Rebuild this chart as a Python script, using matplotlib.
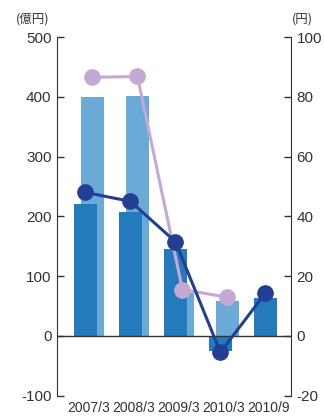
import matplotlib
matplotlib.use("Agg")
import matplotlib.pyplot as plt
import numpy as np

# data
periods = ["2007/3", "2008/3", "2009/3", "2010/3", "2010/9"]
profit_dark = [220, 207, 145, -25, 63]       # 億円, front bars
profit_light = [400, 402, 71, 58]            # 億円, back bars (no 2010/9)
line_navy = [48, 45, 31.5, -5.5, 14.3]       # 円
line_purple = [86.5, 86.8, 15.5, 12.9]       # 円

darkBlue = "#237bbd"
lightBlue = "#6aaad7"
navy = "#233f94"
purple = "#c4a9d4"
axisGray = "#333333"

plt.rcParams['font.family'] = ['Liberation Sans', 'Noto Sans CJK JP', 'DejaVu Sans']
plt.rcParams['axes.unicode_minus'] = False

fig = plt.figure(figsize=(3.24, 4.16), dpi=100)
ax = fig.add_axes([0.176, 0.049, 0.722, 0.862])

x = np.arange(len(periods))
xl = np.arange(len(profit_light))
w = 0.51
off = 0.078

ax.bar(xl + off, profit_light, w, color=lightBlue, zorder=1)
ax.bar(x - off, profit_dark, w, color=darkBlue, zorder=2)
ax.axhline(0, color=axisGray, lw=1.0, zorder=3)

ax.set_ylim(-100, 500)
ax.set_xlim(-0.71, 4.49)
ax.set_yticks([-100, 0, 100, 200, 300, 400, 500])
ax.set_xticks(x)
ax.set_xticklabels(periods, fontsize=10, color=axisGray)
ax.tick_params(axis='x', length=0, pad=4)
ax.tick_params(axis='y', direction='in', length=5, width=1, color=axisGray,
               labelsize=11, labelcolor=axisGray, pad=4)
for s in ['top', 'bottom', 'right']:
    ax.spines[s].set_visible(False)
ax.spines['left'].set_color(axisGray)

ax2 = ax.twinx()
ax2.set_ylim(-20, 100)
ax2.set_yticks([-20, 0, 20, 40, 60, 80, 100])
ax2.plot(xl + off, line_purple, '-o', color=purple, lw=2.2, markersize=11, zorder=4)
ax2.plot(x - off, line_navy, '-o', color=navy, lw=2.2, markersize=11, zorder=5)
ax2.tick_params(axis='y', direction='in', length=5, width=1, color=axisGray,
                labelsize=11, labelcolor=axisGray, pad=4)
for s in ['top', 'bottom', 'left']:
    ax2.spines[s].set_visible(False)
ax2.spines['right'].set_color(axisGray)

fig.text(33 / 324, 1 - 19 / 416, "(億円)", fontsize=9, color=axisGray,
         ha='center', va='center', family=['Noto Sans CJK JP', 'DejaVu Sans'])
fig.text(302 / 324, 1 - 19 / 416, "(円)", fontsize=9, color=axisGray,
         ha='center', va='center', family=['Noto Sans CJK JP', 'DejaVu Sans'])

fig.savefig("out.png", dpi=100)
